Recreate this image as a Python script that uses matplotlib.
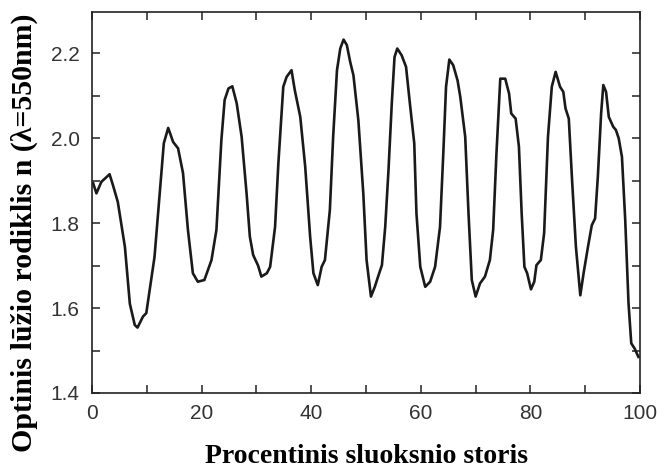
import matplotlib
matplotlib.use('Agg')
import matplotlib.pyplot as plt
from matplotlib.ticker import MultipleLocator

# (x in %, y = refractive index at 550 nm)
thickness = [0.2, 0.8, 1.7, 3.2, 3.8, 4.7, 6.0, 6.9, 7.8, 8.3, 9.3, 9.9, 11.4, 12.3,
             13.1, 13.9, 14.8, 15.7, 16.6, 17.5, 18.4, 19.3, 20.5, 21.8, 22.7, 23.6,
             24.2, 24.9, 25.6, 26.4, 27.3, 28.2, 28.8, 29.4, 30.3, 30.9, 31.9, 32.5,
             33.4, 34.0, 34.9, 35.5, 36.4, 37.0, 38.0, 38.9, 39.8, 40.4, 41.2, 41.9,
             42.5, 43.4, 44.0, 44.7, 45.3, 45.9, 46.5, 47.1, 47.7, 48.6, 49.5, 50.1,
             50.9, 51.6, 52.2, 52.9, 53.5, 54.1, 54.7, 55.2, 55.7, 56.5, 57.3, 58.0,
             58.8, 59.2, 59.9, 60.8, 61.7, 62.6, 63.5, 64.1, 64.6, 65.2, 65.9, 66.7,
             67.2, 68.1, 68.7, 69.3, 70.0, 70.8, 71.7, 72.6, 73.2, 73.8, 74.5, 75.4,
             76.1, 76.5, 77.3, 77.9, 78.4, 78.9, 79.4, 80.1, 80.7, 81.1, 81.9, 82.5,
             83.2, 83.9, 84.6, 85.4, 86.0, 86.4, 87.0, 87.6, 88.3, 89.1, 89.7, 90.5,
             91.2, 91.8, 92.3, 92.9, 93.3, 93.8, 94.3, 95.1, 95.6, 96.1, 96.7, 97.3,
             97.9, 98.4, 99.0, 99.7]
index_n = [1.894, 1.870, 1.897, 1.915, 1.890, 1.850, 1.744, 1.610, 1.560, 1.554, 1.580,
           1.588, 1.720, 1.862, 1.988, 2.024, 1.991, 1.976, 1.918, 1.784, 1.682, 1.662,
           1.666, 1.713, 1.784, 1.995, 2.090, 2.117, 2.122, 2.082, 2.003, 1.870, 1.768,
           1.725, 1.700, 1.674, 1.682, 1.697, 1.791, 1.940, 2.121, 2.144, 2.160, 2.113,
           2.050, 1.933, 1.768, 1.682, 1.654, 1.697, 1.713, 1.831, 2.003, 2.160, 2.211,
           2.232, 2.219, 2.180, 2.148, 2.042, 1.870, 1.713, 1.627, 1.650, 1.674, 1.701,
           1.791, 1.925, 2.082, 2.191, 2.211, 2.195, 2.168, 2.082, 1.988, 1.823, 1.697,
           1.650, 1.662, 1.697, 1.791, 1.964, 2.121, 2.185, 2.172, 2.136, 2.097, 2.003,
           1.823, 1.666, 1.627, 1.658, 1.674, 1.713, 1.784, 1.964, 2.140, 2.140, 2.105,
           2.058, 2.046, 1.980, 1.823, 1.697, 1.682, 1.644, 1.662, 1.701, 1.713, 1.776,
           2.003, 2.121, 2.156, 2.121, 2.109, 2.070, 2.046, 1.901, 1.744, 1.630, 1.682,
           1.744, 1.795, 1.811, 1.909, 2.058, 2.125, 2.109, 2.050, 2.027, 2.019, 2.000,
           1.956, 1.807, 1.611, 1.517, 1.505, 1.485]

fig = plt.figure(figsize=(6.64, 4.72), dpi=100)
ax = fig.add_axes([0.1386, 0.1674, 0.8253, 0.8072])
ax.plot(thickness, index_n, '-', color='#1a1a1a', linewidth=1.9)

ax.set_xlim(0, 100)
ax.set_ylim(1.4, 2.297)
ax.xaxis.set_major_locator(MultipleLocator(20))
ax.xaxis.set_minor_locator(MultipleLocator(10))
ax.yaxis.set_major_locator(MultipleLocator(0.2))
ax.yaxis.set_minor_locator(MultipleLocator(0.1))
ax.yaxis.set_major_formatter(plt.FuncFormatter(lambda v, p: '%.1f' % v))
ax.tick_params(which='both', direction='in', top=True, right=True,
               length=6, width=1.1, color='#222222')
ax.tick_params(which='major', labelsize=15, labelcolor='#333333')
ax.tick_params(axis='x', which='major', pad=8)
ax.tick_params(axis='y', which='major', pad=9)
for lab in ax.get_xticklabels() + ax.get_yticklabels():
    lab.set_family('Liberation Sans')
for s in ax.spines.values():
    s.set_linewidth(1.2)
    s.set_color('#222222')

ax.set_xlabel('Procentinis sluoksnio storis', family='Liberation Serif',
              fontweight='bold', fontsize=20)
ax.set_ylabel('Optinis lūžio rodiklis n (λ=550nm)', family='Liberation Serif',
              fontweight='bold', fontsize=21.5)
ax.xaxis.set_label_coords(0.5, -0.135)
ax.yaxis.set_label_coords(-0.098, 0.42)

fig.savefig('out.png', dpi=100)
